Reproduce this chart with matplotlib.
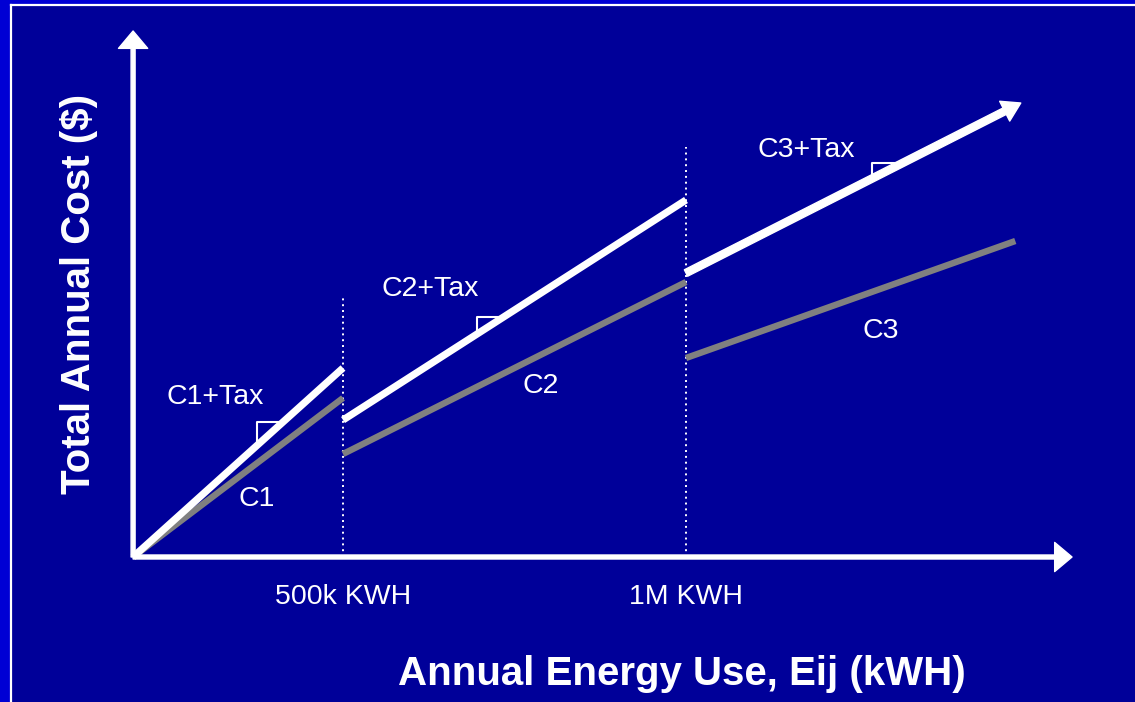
import matplotlib.pyplot as plt
from matplotlib.patches import Rectangle
from matplotlib.lines import Line2D

plt.rcParams['font.family'] = ['Liberation Sans', 'DejaVu Sans']

# Schematic data: annual energy use (kWh) and total annual cost (arbitrary $ units)
x_origin = 194000
breaks = [500000, 1000000]
x_end = 1480000
x_arrow_tip = 1488000

c1_tax = [0, 189]
c1 = [0, 159]
c2_tax = [137, 357]
c2 = [103, 275]
c3_tax = [284, 454]
c3 = [199, 316]

tick_labels = ["500k KWH", "1M KWH"]
divider_tops = [260, 410]

# slope markers: x position of the corner, height of the vertical leg
marker_x = [374600, 695300, 1271100]
marker_leg = [23, 17, 16]

bg_inner = "#000099"
bg_outer = "#0000D4"
grey = "#808080"

fig = plt.figure(figsize=(11.35, 7.02), dpi=100)
fig.patch.set_facecolor(bg_outer)

# inner slide panel with white border on top and left only
left = 11 / 1135
top = 1 - 5 / 702
fig.add_artist(Rectangle((left, 0), 1, top, transform=fig.transFigure,
                         facecolor=bg_inner, edgecolor="none", zorder=0))
fig.add_artist(Line2D([left, left], [0, top], transform=fig.transFigure, color="white", lw=1.6))
fig.add_artist(Line2D([left, 1], [top, top], transform=fig.transFigure, color="white", lw=1.6))

ax = fig.add_axes([0, 0, 1, 1])
ax.set_facecolor("none")
ax.set_xlim(0, 1135 * 1457.7)
ax.set_ylim(557 - 702, 557)
ax.axis("off")

# axes arrows
ax.annotate("", xy=(x_origin, 526), xytext=(x_origin, 0),
            arrowprops=dict(width=2.9, headwidth=21, headlength=12.5, color="white", shrink=0))
ax.annotate("", xy=(1562700, 0), xytext=(x_origin, 0),
            arrowprops=dict(width=2.9, headwidth=21, headlength=12.5, color="white", shrink=0))

# dotted dividers
for b, top_y in zip(breaks, divider_tops):
    ax.plot([b, b], [0, top_y], color="white", lw=1.4, linestyle=(0, (1, 2)))

# cost lines
ax.plot([x_origin, breaks[0]], c1, color=grey, lw=4.6, solid_capstyle="butt")
ax.plot([x_origin, breaks[0]], c1_tax, color="white", lw=5.2, solid_capstyle="butt")
ax.plot([breaks[0], breaks[1]], c2, color=grey, lw=4.6, solid_capstyle="butt")
ax.plot([breaks[0], breaks[1]], c2_tax, color="white", lw=5.2, solid_capstyle="butt")
ax.plot([breaks[1], x_end], c3, color=grey, lw=4.6, solid_capstyle="butt")
ax.annotate("", xy=(x_arrow_tip, c3_tax[1]), xytext=(breaks[1], c3_tax[0]),
            arrowprops=dict(width=5.2, headwidth=16, headlength=13, color="white", shrink=0))

# slope markers
segments = [([x_origin, breaks[0]], c1_tax), (breaks, c2_tax), ([breaks[1], x_arrow_tip], c3_tax)]
for (xs, ys), mx, leg in zip(segments, marker_x, marker_leg):
    slope = (ys[1] - ys[0]) / (xs[1] - xs[0])
    y_line = ys[0] + slope * (mx - xs[0])
    y_top = y_line + leg
    x_hit = xs[0] + (y_top - ys[0]) / slope
    ax.plot([mx, mx, x_hit], [y_line, y_top, y_top], color="white", lw=1.5, zorder=1)

# labels
lab = dict(color="white", fontsize=20.5, ha="center", va="center")
ax.text(313400, 160, "C1+Tax", **lab)
ax.text(374600, 58, "C1", **lab)
ax.text(626800, 268, "C2+Tax", **lab)
ax.text(788600, 171, "C2", **lab)
ax.text(1174900, 407, "C3+Tax", **lab)
ax.text(1284200, 226, "C3", **lab)
for b, t in zip(breaks, tick_labels):
    ax.text(b, -40, t, **lab)

fig.text(682 / 1135, 1 - 674 / 702, "Annual Energy Use, Eij (kWH)", color="white",
         fontsize=29, fontweight="bold", ha="center", va="center")
fig.text(79 / 1135, 1 - 294 / 702, "Total Annual Cost ($)", color="white",
         fontsize=29, fontweight="bold", ha="center", va="center", rotation=90)

fig.savefig("out.png", dpi=100, facecolor=fig.get_facecolor())
